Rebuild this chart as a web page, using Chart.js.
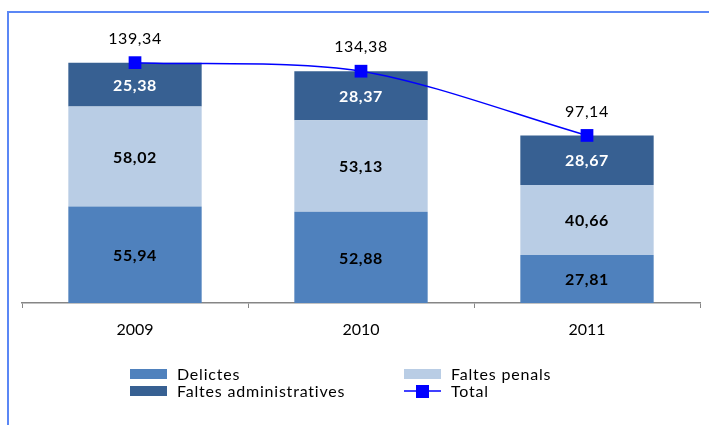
<!DOCTYPE html>
<html>
<head>
<meta charset="utf-8">
<script src="https://cdn.jsdelivr.net/npm/chart.js@4.4.0/dist/chart.umd.min.js"></script>
<style>
  body { margin: 0; background: #fff; }
  #wrap { position: relative; width: 709px; height: 425px; overflow: hidden; }
  #frame { position: absolute; left: 7px; top: 11px; width: 720px; height: 430px;
           border-top: 2px solid #5b87f5; border-left: 2px solid #5b87f5; }
  canvas { position: absolute; left: 0; top: 0; }
</style>
</head>
<body>
<div id="wrap">
  <div id="frame"></div>
  <canvas id="myChart" width="709" height="425"></canvas>
</div>
<script>
var years = ['2009', '2010', '2011'];
var delictes = [55.94, 52.88, 27.81];
var faltesPenals = [58.02, 53.13, 40.66];
var faltesAdmin = [25.38, 28.37, 28.67];
var total = [139.34, 134.38, 97.14];

var FONT = 'Lato, "Open Sans", sans-serif';

function fmt(v) {
    return v.toFixed(2).replace('.', ',');
}

// values written inside the bars and above the total markers
var valueLabels = {
    id: 'valueLabels',
    afterDatasetsDraw(chart) {
        var ctx = chart.ctx;
        ctx.save();
        ctx.textAlign = 'center';
        ctx.textBaseline = 'middle';
        ctx.letterSpacing = '0.6px';
        chart.data.datasets.forEach((ds, i) => {
            var meta = chart.getDatasetMeta(i);
            meta.data.forEach((el, j) => {
                var v = ds.data[j];
                if (ds.type === 'line') {
                    ctx.font = '16px ' + FONT;
                    ctx.fillStyle = '#000';
                    ctx.fillText(fmt(v), el.x, el.y - 24);
                } else {
                    ctx.font = 'bold 16px ' + FONT;
                    ctx.fillStyle = ds.labelColor;
                    ctx.fillText(fmt(v), el.x, (el.y + el.base) / 2 + 1);
                }
            });
        });
        ctx.restore();
    }
};

// two-column legend under the axis
var gridLegend = {
    id: 'gridLegend',
    afterDraw(chart) {
        var ctx = chart.ctx;
        var cols = [130, 404];
        var rows = [374, 391];
        ctx.save();
        ctx.font = '16px ' + FONT;
        ctx.letterSpacing = '0.8px';
        ctx.textBaseline = 'middle';
        ctx.textAlign = 'left';
        chart.data.datasets.forEach((ds, i) => {
            var x = cols[i % 2];
            var y = rows[Math.floor(i / 2)];
            if (ds.type === 'line') {
                ctx.strokeStyle = ds.borderColor;
                ctx.lineWidth = 1.5;
                ctx.beginPath();
                ctx.moveTo(x, y);
                ctx.lineTo(x + 37, y);
                ctx.stroke();
                ctx.fillStyle = ds.backgroundColor;
                ctx.fillRect(x + 12, y - 6, 13, 13);
            } else {
                ctx.fillStyle = ds.backgroundColor;
                ctx.fillRect(x, y - 5, 37, 10);
            }
            ctx.fillStyle = '#000';
            ctx.fillText(ds.label, x + 47, y + 1);
        });
        ctx.restore();
    }
};

var node = document.getElementById('myChart');
new Chart(node, {
    type: 'bar',
    data: {
        labels: years,
        datasets: [
            { label: 'Delictes', data: delictes, backgroundColor: '#4f81bd', labelColor: '#000', order: 1 },
            { label: 'Faltes penals', data: faltesPenals, backgroundColor: '#b9cde5', labelColor: '#000', order: 1 },
            { label: 'Faltes administratives', data: faltesAdmin, backgroundColor: '#376092', labelColor: '#fff', order: 1 },
            {
                type: 'line', label: 'Total', data: total, stack: 'total', order: 0,
                borderColor: '#0000ff', backgroundColor: '#0000ff', borderWidth: 1.5,
                tension: 0.3, pointStyle: 'rect', pointRadius: 9, pointHoverRadius: 9,
                pointBorderWidth: 0
            }
        ]
    },
    options: {
        responsive: false,
        animation: false,
        layout: { padding: { left: 22, right: 9, top: 27, bottom: 0 } },
        datasets: {
            bar: { categoryPercentage: 1, barPercentage: 0.59 }
        },
        plugins: {
            legend: { display: false },
            tooltip: { enabled: false }
        },
        scales: {
            x: {
                stacked: true,
                grid: { offset: true, drawOnChartArea: false, drawTicks: true, tickLength: 5, color: '#868686' },
                border: { display: true, color: '#868686', width: 1.5 },
                ticks: { color: '#000', font: { family: FONT, size: 16 }, padding: 12 },
                afterFit: (scale) => { scale.height = 122; }
            },
            y: {
                stacked: true,
                display: false,
                min: 0,
                max: 160
            }
        }
    },
    plugins: [valueLabels, gridLegend]
});
</script>
</body>
</html>
